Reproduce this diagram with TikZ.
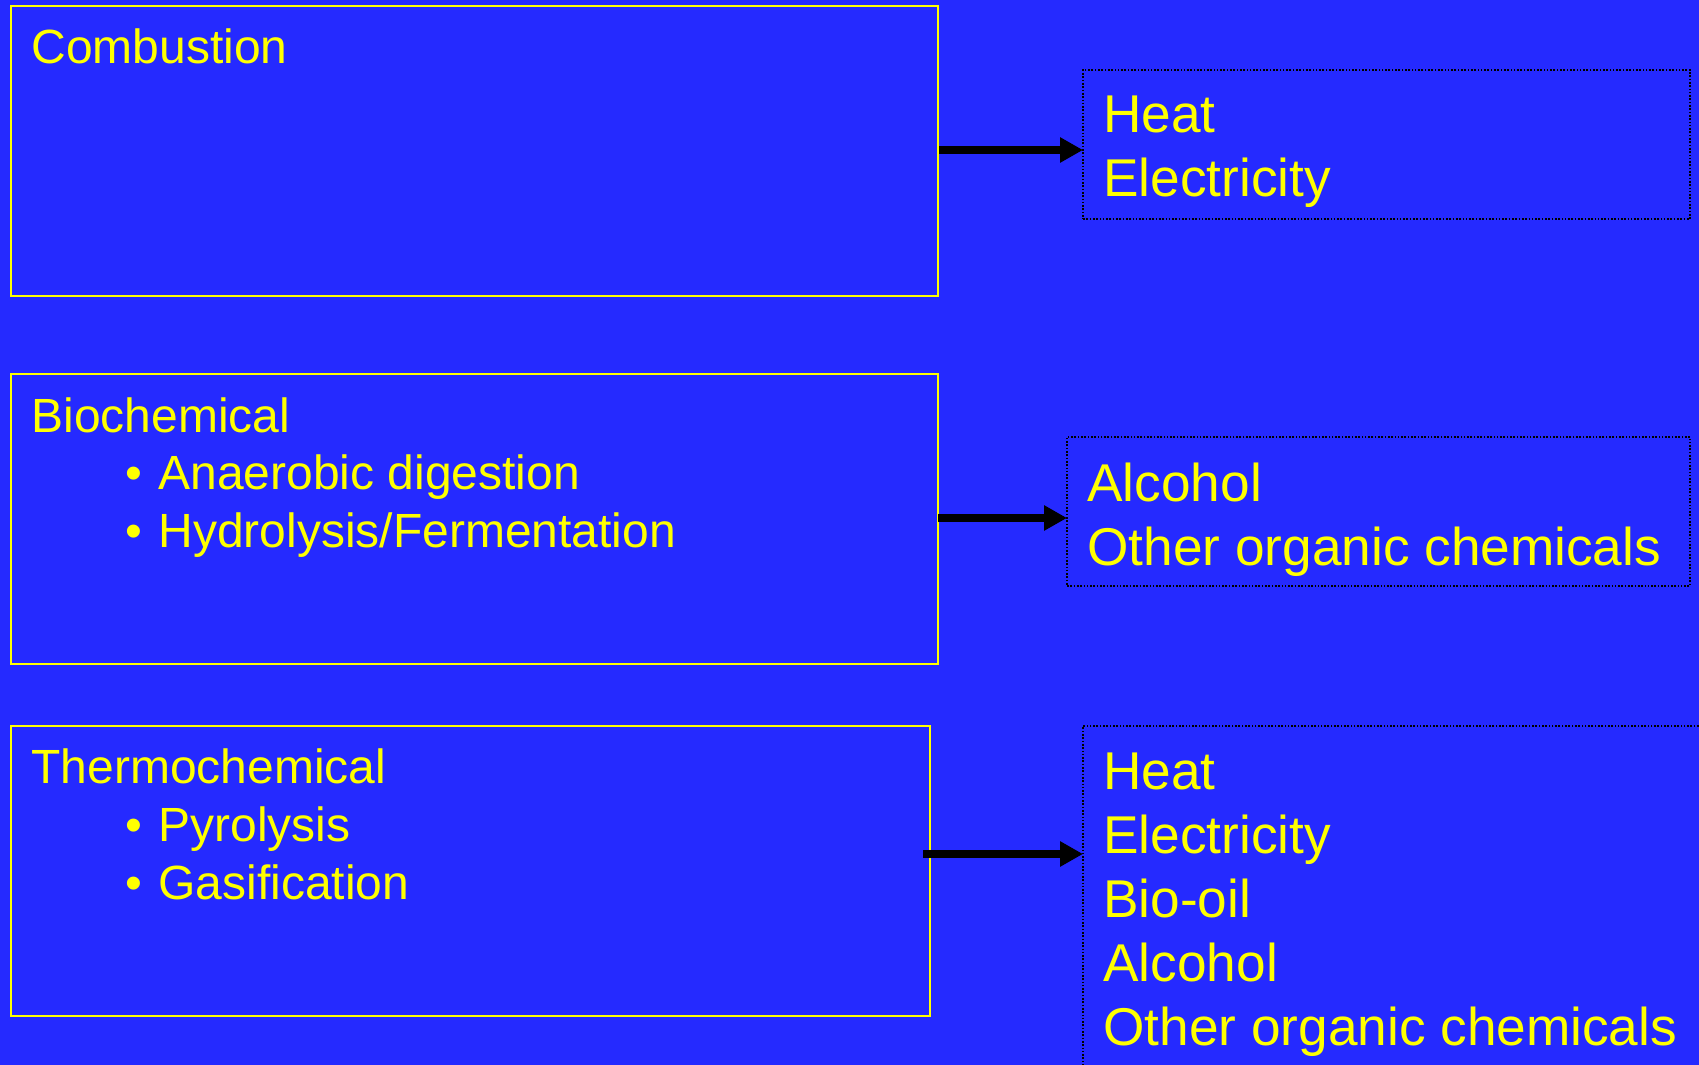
\documentclass[tikz,border=0pt]{standalone}
\usepackage{fontspec}
\setmainfont{Liberation Sans}
\usetikzlibrary{arrows.meta}
\definecolor{bgblue}{RGB}{37,42,255}
\definecolor{txtyellow}{RGB}{255,255,0}
\tikzset{
  procbox/.style={draw=txtyellow, line width=1pt, rectangle, inner sep=0pt, outer sep=0pt, anchor=north west},
  outbox/.style={draw=black, line width=0.75pt, dash pattern=on 0.8pt off 0.85pt, rectangle, inner sep=0pt, outer sep=0pt, anchor=north west},
  lefttxt/.style={text=txtyellow, font=\fontsize{24pt}{29pt}\selectfont, inner sep=0pt, anchor=base west},
  righttxt/.style={text=txtyellow, font=\fontsize{26.6pt}{32pt}\selectfont, inner sep=0pt, anchor=base west},
  flow/.style={draw=black, line width=4pt, -{Triangle[length=11.5pt,width=12pt]}}
}
\begin{document}
\begin{tikzpicture}[x=0.5pt,y=-0.5pt]
\fill[bgblue] (0,0) rectangle (1699,1065);
\clip (0,0) rectangle (1699,1065);
% process boxes
\node[procbox, minimum width=463.5pt, minimum height=144.75pt] (b1) at (11,6.5) {};
\node[procbox, minimum width=463.5pt, minimum height=145pt] (b2) at (11,374) {};
\node[procbox, minimum width=459.5pt, minimum height=145pt] (b3) at (11,726) {};
% output boxes
\node[outbox, minimum width=303.5pt, minimum height=74.5pt] (o1) at (1083,70) {};
\node[outbox, minimum width=311.5pt, minimum height=74.5pt] (o2) at (1067,437) {};
\node[outbox, minimum width=328.5pt, minimum height=192pt] (o3) at (1083,726) {};
% left texts
\node[lefttxt] (t1) at (31,64) {Combustion};
\node[lefttxt] (t2) at (31,432) {Biochemical};
\node[lefttxt] (t2a) at (125,489) {•};
\node[lefttxt] (t2b) at (158,489) {Anaerobic digestion};
\node[lefttxt] (t2c) at (125,547) {•};
\node[lefttxt] (t2d) at (158,547) {Hydrolysis/Fermentation};
\node[lefttxt] (t3) at (31,783) {Thermochemical};
\node[lefttxt] (t3a) at (125,841) {•};
\node[lefttxt] (t3b) at (158,841) {Pyrolysis};
\node[lefttxt] (t3c) at (125,899) {•};
\node[lefttxt] (t3d) at (158,899) {Gasification};
% right texts
\node[righttxt] (r1a) at (1103,133) {Heat};
\node[righttxt] (r1b) at (1103,197) {Electricity};
\node[righttxt] (r2a) at (1087,501) {Alcohol};
\node[righttxt] (r2b) at (1087,565) {Other organic chemicals};
\node[righttxt] (r3a) at (1103,789) {Heat};
\node[righttxt] (r3b) at (1103,853) {Electricity};
\node[righttxt] (r3c) at (1103,917) {Bio-oil};
\node[righttxt] (r3d) at (1103,981) {Alcohol};
\node[righttxt] (r3e) at (1103,1045) {Other organic chemicals};
% arrows
\coordinate (a1s) at (939,150);
\coordinate (a2s) at (938,518);
\coordinate (a3s) at (923,854);
\draw[flow] (a1s) -- (a1s -| o1.west);
\draw[flow] (a2s) -- (a2s -| o2.west);
\draw[flow] (a3s) -- (a3s -| o3.west);
\end{tikzpicture}
\end{document}
